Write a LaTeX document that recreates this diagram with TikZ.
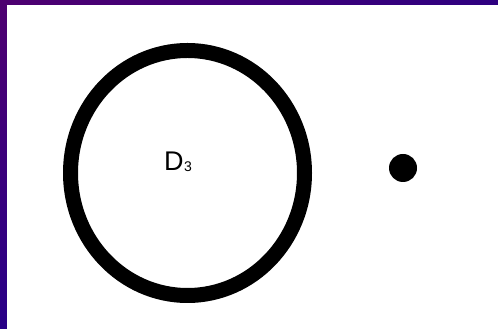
\documentclass[tikz,border=0pt]{standalone}
\usepackage{fontspec}
\setmainfont{Liberation Sans}
\usetikzlibrary{shapes.geometric,shadings}
\definecolor{bordTL}{RGB}{78,0,112}
\definecolor{bordTR}{RGB}{46,0,128}
\definecolor{bordBL}{RGB}{40,0,135}
\definecolor{bordBR}{RGB}{40,0,135}
\tikzset{
  ring/.style={draw=black, line width=15pt, ellipse, minimum width=234pt, minimum height=245pt, inner sep=0pt},
  blob/.style={circle, fill=black, minimum size=28pt, inner sep=0pt},
  lbl/.style={font=\fontsize{27}{30}\selectfont, inner sep=0pt}
}
\begin{document}
\begin{tikzpicture}[x=1pt,y=1pt]
\useasboundingbox (0,0) rectangle (498,329);
\shade[upper left=bordTL, upper right=bordTR, lower left=bordBL, lower right=bordBR] (0,0) rectangle (498,329);
\fill[white] (7,0) rectangle (498,324);
\node[ring] (d3ring) at (187.5,156) {};
\node[lbl, anchor=base west] (d3label) at (164,158) {D\hspace{0.5pt}\raisebox{-1pt}{\fontsize{14}{16}\selectfont 3}};
\node[blob] (dot) at (403,161) {};
\end{tikzpicture}
\end{document}
